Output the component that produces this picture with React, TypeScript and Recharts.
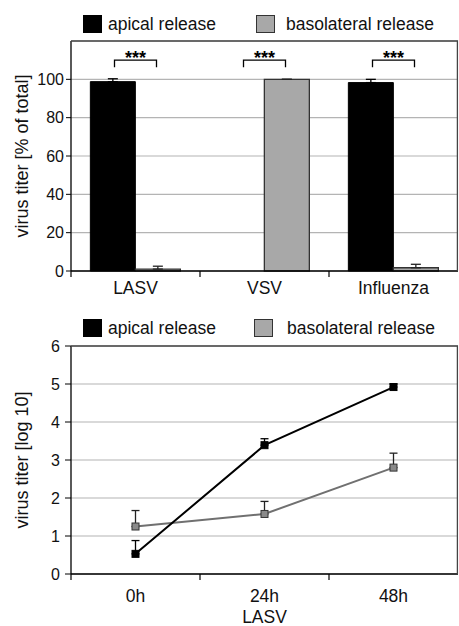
import React from 'react';
import {
  ComposedChart,
  LineChart,
  Bar,
  Line,
  Scatter,
  ErrorBar,
  XAxis,
  YAxis,
  CartesianGrid,
  Legend,
} from 'recharts';

const FONT = '"Liberation Sans", Arial, Helvetica, sans-serif';

// ---- top chart data ----
const viruses = ['LASV', 'VSV', 'Influenza'];
const apicalPct = [98.8, 0, 98.3];
const apicalPctErr = [1.5, 0, 1.7];
const basoPct = [1.0, 100, 1.7];
const basoPctErr = [1.5, 0, 1.8];
const sigLevel = [110, 110, 110];
const sigLabels = ['***', '***', '***'];
const pctTicks = [0, 20, 40, 60, 80, 100];
const pctDomain = [0, 120];

// ---- bottom chart data ----
const timepoints = ['0h', '24h', '48h'];
const apicalLog = [0.53, 3.39, 4.92];
const apicalLogErr = [0.35, 0.17, 0.08];
const basoLog = [1.25, 1.58, 2.8];
const basoLogErr = [0.42, 0.33, 0.38];
const logTicks = [0, 1, 2, 3, 4, 5, 6];
const logDomain = [0, 6];

const seriesNames = ['apical release', 'basolateral release'];

const barData = viruses.map((v, i) => ({
  virus: v,
  apical: apicalPct[i],
  apicalErr: [0, apicalPctErr[i]],
  baso: basoPct[i],
  basoErr: [0, basoPctErr[i]],
  sig: sigLevel[i],
  sigLabel: sigLabels[i],
}));

const lineData = timepoints.map((t, i) => ({
  time: t,
  apical: apicalLog[i],
  apicalErr: [0, apicalLogErr[i]],
  baso: basoLog[i],
  basoErr: [0, basoLogErr[i]],
}));

const W = 459;
const YAXIS_W = 71;
const MARGIN_R = 1;
const PLOT_W = W - YAXIS_W - MARGIN_R;
const BAND = PLOT_W / 3;

const TOP_H = 300;
const TOP_MT = 41;
const TOP_XH = 29;
const BOT_Y = 300;
const BOT_H = 326;
const BOT_MT = 46;
const BOT_XH = 52;

const GREY_FILL = '#a8a8a8';
const GRID = '#b4b4b4';
const FRAME = '#444';

const makeCatTick = (labelOffset: number, fontSize: number) => (props: any) => {
  const { x, y, payload } = props;
  const left = x - BAND / 2;
  return (
    <g>
      <line x1={left} x2={left} y1={y} y2={y + 6} stroke="#000" strokeWidth={1.2} />
      <text
        x={x}
        y={y + labelOffset}
        dy="0.71em"
        textAnchor="middle"
        fontFamily={FONT}
        fontSize={fontSize}
        fill="#111"
      >
        {payload.value}
      </text>
    </g>
  );
};

const yTitle = (text: string, cx: number) => (props: any) => {
  const vb = props.viewBox || { x: 0, y: 0, width: 0, height: 0 };
  const cy = vb.y + vb.height / 2;
  return (
    <text
      x={cx}
      y={cy}
      transform={`rotate(-90 ${cx} ${cy})`}
      textAnchor="middle"
      dominantBaseline="central"
      fontFamily={FONT}
      fontSize={18}
      fill="#111"
    >
      {text}
    </text>
  );
};

const xTitle = (text: string, baselineOffset: number) => (props: any) => {
  const vb = props.viewBox || { x: 0, y: 0, width: 0, height: 0 };
  return (
    <text
      x={vb.x + vb.width / 2}
      y={vb.y + baselineOffset}
      textAnchor="middle"
      fontFamily={FONT}
      fontSize={17.5}
      fill="#111"
    >
      {text}
    </text>
  );
};

const SigShape = (props: any) => {
  const { cx, cy, payload } = props;
  if (cx == null || cy == null) return null;
  const hw = 21;
  return (
    <g>
      <path
        d={`M${cx - hw},${cy + 7} V${cy} H${cx + hw} V${cy + 7}`}
        stroke="#000"
        strokeWidth={1.3}
        fill="none"
      />
      <text
        x={cx}
        y={cy + 4}
        textAnchor="middle"
        fontFamily={FONT}
        fontWeight="bold"
        fontSize={18}
        fill="#000"
      >
        {payload.sigLabel}
      </text>
    </g>
  );
};

const LegendBox = ({ secondX, textGap2 }: { secondX: number; textGap2: number }) => (
  <div style={{ position: 'relative', width: 380, height: 0, fontFamily: FONT, fontSize: 17.5, color: '#111' }}>
    <div style={{ position: 'absolute', left: 0, top: 0, width: 19, height: 18, background: '#000' }} />
    <div style={{ position: 'absolute', left: 25, top: -1, lineHeight: '20px', whiteSpace: 'nowrap' }}>
      {seriesNames[0]}
    </div>
    <div
      style={{
        position: 'absolute',
        left: secondX,
        top: 0,
        width: 19,
        height: 18,
        boxSizing: 'border-box',
        background: GREY_FILL,
        border: '1.5px solid #333',
      }}
    />
    <div
      style={{
        position: 'absolute',
        left: secondX + 19 + textGap2,
        top: -1,
        lineHeight: '20px',
        whiteSpace: 'nowrap',
      }}
    >
      {seriesNames[1]}
    </div>
  </div>
);

const SquareDot = (fill: string, stroke: string, size: number) => (props: any) => {
  const { cx, cy, index } = props;
  if (cx == null || cy == null) return <g key={`e-${index}`} />;
  return (
    <rect
      key={`d-${index}`}
      x={cx - size / 2}
      y={cy - size / 2}
      width={size}
      height={size}
      fill={fill}
      stroke={stroke}
      strokeWidth={1}
    />
  );
};

// plot-area frame (top and right edges), laid over the charts
const FrameOverlay = () => {
  const left = YAXIS_W;
  const right = W - MARGIN_R - 0.6;
  const t1 = TOP_MT;
  const b1 = TOP_H - TOP_XH;
  const t2 = BOT_Y + BOT_MT;
  const b2 = BOT_Y + BOT_H - BOT_XH;
  return (
    <svg
      width={W}
      height={626}
      style={{ position: 'absolute', left: 0, top: 0, pointerEvents: 'none', zIndex: 5 }}
    >
      <path d={`M${left},${t1} H${right} V${b1}`} stroke={FRAME} strokeWidth={1.3} fill="none" />
      <path d={`M${left},${t2} H${right} V${b2}`} stroke={FRAME} strokeWidth={1.3} fill="none" />
    </svg>
  );
};

export default function App() {
  return (
    <div style={{ position: 'absolute', left: 0, top: 0, width: 459, height: 626, background: '#fff' }}>
      <div style={{ position: 'absolute', left: 0, top: 0 }}>
        <ComposedChart
          width={W}
          height={TOP_H}
          data={barData}
          margin={{ top: TOP_MT, right: MARGIN_R, bottom: 0, left: 0 }}
          barCategoryGap="15%"
          barGap={0}
        >
          <CartesianGrid vertical={false} stroke={GRID} strokeWidth={1.2} />
          <XAxis
            dataKey="virus"
            height={TOP_XH}
            axisLine={{ stroke: '#000', strokeWidth: 1.3 }}
            tickLine={false}
            tickSize={0}
            tickMargin={0}
            interval={0}
            tick={makeCatTick(11, 17.5)}
          />
          <YAxis
            domain={pctDomain}
            ticks={pctTicks}
            width={YAXIS_W}
            interval={0}
            axisLine={{ stroke: '#000', strokeWidth: 1.3 }}
            tickLine={{ stroke: '#000' }}
            tickSize={5}
            tickMargin={2}
            tick={{ fontFamily: FONT, fontSize: 16, fill: '#111' }}
            label={yTitle('virus titer [% of total]', 22)}
          />
          <Legend
            verticalAlign="top"
            wrapperStyle={{ position: 'absolute', left: 83, top: 15, width: 380, height: 0 }}
            content={() => <LegendBox secondX={173} textGap2={11} />}
          />
          <Bar dataKey="apical" name={seriesNames[0]} fill="#000" stroke="#000" strokeWidth={1} isAnimationActive={false}>
            <ErrorBar dataKey="apicalErr" width={5} stroke="#000" strokeWidth={1.3} direction="y" />
          </Bar>
          <Bar dataKey="baso" name={seriesNames[1]} fill={GREY_FILL} stroke="#333" strokeWidth={1.3} isAnimationActive={false}>
            <ErrorBar dataKey="basoErr" width={5} stroke="#222" strokeWidth={1.3} direction="y" />
          </Bar>
          <Scatter dataKey="sig" legendType="none" isAnimationActive={false} shape={SigShape} />
        </ComposedChart>
      </div>

      <div style={{ position: 'absolute', left: 0, top: BOT_Y }}>
        <LineChart
          width={W}
          height={BOT_H}
          data={lineData}
          margin={{ top: BOT_MT, right: MARGIN_R, bottom: 0, left: 0 }}
        >
          <CartesianGrid vertical={false} stroke={GRID} strokeWidth={1.2} />
          <XAxis
            dataKey="time"
            scale="band"
            height={BOT_XH}
            axisLine={{ stroke: '#000', strokeWidth: 1.3 }}
            tickLine={false}
            tickSize={0}
            tickMargin={0}
            interval={0}
            tick={makeCatTick(16, 17.5)}
            label={xTitle('LASV', 49)}
          />
          <YAxis
            domain={logDomain}
            ticks={logTicks}
            width={YAXIS_W}
            interval={0}
            axisLine={{ stroke: '#000', strokeWidth: 1.3 }}
            tickLine={{ stroke: '#000' }}
            tickSize={6}
            tickMargin={5}
            tick={{ fontFamily: FONT, fontSize: 16, fill: '#111' }}
            label={yTitle('virus titer [log 10]', 22)}
          />
          <Legend
            verticalAlign="top"
            wrapperStyle={{ position: 'absolute', left: 83, top: 19, width: 380, height: 0 }}
            content={() => <LegendBox secondX={171} textGap2={14} />}
          />
          <Line
            dataKey="baso"
            name={seriesNames[1]}
            stroke="#707070"
            strokeWidth={2}
            isAnimationActive={false}
            dot={SquareDot('#8a8a8a', '#333', 7)}
            activeDot={false}
          >
            <ErrorBar dataKey="basoErr" width={4} stroke="#222" strokeWidth={1.3} direction="y" />
          </Line>
          <Line
            dataKey="apical"
            name={seriesNames[0]}
            stroke="#000"
            strokeWidth={2}
            isAnimationActive={false}
            dot={SquareDot('#000', '#000', 7)}
            activeDot={false}
          >
            <ErrorBar dataKey="apicalErr" width={4} stroke="#000" strokeWidth={1.3} direction="y" />
          </Line>
        </LineChart>
      </div>

      <FrameOverlay />
    </div>
  );
}
